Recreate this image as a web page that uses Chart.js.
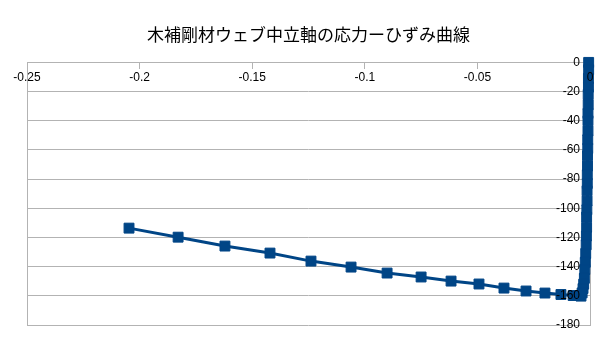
<!DOCTYPE html>
<html>
<head>
<meta charset="utf-8">
<script src="https://cdn.jsdelivr.net/npm/chart.js@4.4.1/dist/chart.umd.min.js"></script>
<style>
  body { margin: 0; background: #fff; }
  #wrap { width: 605px; height: 340px; }
</style>
</head>
<body>
<div id="wrap"><canvas id="myChart" width="605" height="340"></canvas></div>
<script>
// strain (horizontal) and stress (vertical) of the web centre line, starting at zero load
const strain = [
  -0.0006, -0.0006, -0.0007, -0.0007, -0.0008, -0.0008, -0.0009, -0.0009, -0.0009, -0.0010,
  -0.0010, -0.0011, -0.0011, -0.0012, -0.0012, -0.0013, -0.0013, -0.0014, -0.0015, -0.0015,
  -0.0016, -0.0017, -0.0019, -0.0021, -0.0023, -0.0025, -0.0028, -0.0031, -0.0035,
  -0.0040, -0.0075, -0.0129, -0.0200, -0.0284, -0.0382, -0.0493, -0.0617, -0.0750,
  -0.0901, -0.1061, -0.1239, -0.1421, -0.1621, -0.1829, -0.2047
];
const stress = [
  0, -5, -11, -17, -22, -29, -35, -40, -47, -53,
  -59, -64, -71, -77, -83, -88, -95, -101, -106, -113,
  -119, -125, -131, -137, -142, -148, -152, -155, -158,
  -160.2, -159.8, -159.1, -158.1, -156.7, -154.7, -151.9, -149.9, -147.1,
  -144.4, -140.3, -136.2, -130.7, -125.9, -119.8, -113.6
];

const xTicks = [-0.25, -0.2, -0.15, -0.1, -0.05, 0];

const LINE_BLUE = '#004586';
const GRID_GREY = '#b3b3b3';

let points = [];
for (let i = 0; i < strain.length; i++) {
  points.push({x: strain[i], y: stress[i]});
}

const data = {
  datasets: [{
    label: '応力',
    data: points,
    borderColor: LINE_BLUE,
    backgroundColor: LINE_BLUE,
    borderWidth: 3,
    pointStyle: 'rect',
    pointRadius: 7,
    pointBorderWidth: 1,
    pointBorderColor: LINE_BLUE,
    pointBackgroundColor: LINE_BLUE,
    tension: 0,
    clip: false   // markers next to the zero axis spill past the plot edge
  }]
};

const config = {
  type: 'line',
  data: data,
  options: {
    responsive: false,
    animation: false,
    layout: {
      padding: {left: 27, right: 15, bottom: 15, top: 0}
    },
    plugins: {
      legend: { display: false },
      tooltip: { enabled: false },
      title: {
        display: true,
        text: '木補剛材ウェブ中立軸の応力ーひずみ曲線',
        color: '#000',
        font: { family: '"Noto Sans CJK JP", "Noto Sans", sans-serif', size: 17, weight: 'normal' },
        padding: { top: 24, bottom: 18 }
      }
    },
    scales: {
      x: {
        type: 'linear',
        min: -0.25,
        max: 0,
        position: { y: 0 },
        afterBuildTicks: (scale) => { scale.ticks = xTicks.map(v => ({value: v})); },
        grid: {
          // only the left edge is drawn across the plot, the rest are short ticks
          color: (ctx) => (ctx.tick && ctx.tick.value === -0.25) ? GRID_GREY : 'rgba(0,0,0,0)',
          tickColor: GRID_GREY,
          tickLength: 6,
          lineWidth: 1
        },
        border: { display: true, color: GRID_GREY, width: 1 },
        ticks: {
          z: 1,
          color: '#000',
          padding: 2,
          maxRotation: 0,
          font: { family: '"Liberation Sans", Arial, sans-serif', size: 12 },
          callback: (v) => String(+Number(v).toFixed(2))
        }
      },
      y: {
        type: 'linear',
        min: -180,
        max: 0,
        position: { x: 0 },
        grid: {
          color: GRID_GREY,
          drawTicks: false,
          lineWidth: 1
        },
        border: { display: true, color: GRID_GREY, width: 1 },
        ticks: {
          z: 1,
          stepSize: 20,
          color: '#000',
          font: { family: '"Liberation Sans", Arial, sans-serif', size: 12 },
          // trailing spaces keep the labels off the axis line
          callback: (v) => v + '   '
        }
      }
    }
  }
};

const myChart = new Chart(document.getElementById('myChart'), config);
</script>
</body>
</html>
